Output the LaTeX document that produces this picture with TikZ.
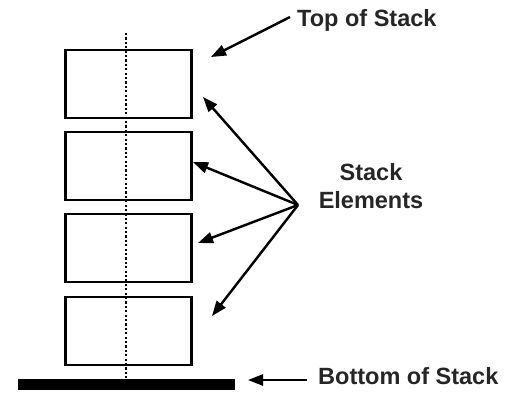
\documentclass[tikz,border=0pt]{standalone}
\usepackage{fontspec}
\setmainfont{Liberation Sans}
\usetikzlibrary{arrows.meta}
\begin{document}
\begin{tikzpicture}[x=1pt,y=-1pt,
  elem/.style={draw=black,line width=2.6pt,fill=white,minimum width=126pt,minimum height=68pt,inner sep=0pt},
  lbl/.style={font=\bfseries\fontsize{23.5}{28}\selectfont,inner sep=0pt,align=center,text=black!85},
  arr/.style={line width=2.4pt,-{Triangle[length=15pt,width=11pt]}},
  sarr/.style={arr,draw=black!20,color=black!20,opacity=0.6}]
\useasboundingbox (0,0) rectangle (532,392);
% boxes
\node[elem] (e1) at (128.5,84) {};
\node[elem] (e2) at (128.5,166) {};
\node[elem] (e3) at (128.5,248) {};
\node[elem] (e4) at (128.5,331) {};
% base bar
\node[fill=black,minimum width=217pt,minimum height=11pt,inner sep=0pt] (bar) at (126.5,384.5) {};
% dotted axis
\coordinate (atop) at (126,33);
\draw[line width=2.6pt,dash pattern=on 2.2pt off 2.2pt] (atop) -- (bar.north -| atop);
% labels
\node[lbl,anchor=west] (top) at (297,20) {Top of Stack};
\node[lbl] (se) at (371,186) {Stack\\Elements};
\node[lbl,anchor=west] (bot) at (318,376) {Bottom of Stack};
% arrow endpoints
\coordinate (hub) at (298,205);
\coordinate (t0) at (290,17);
\coordinate (p0) at (211,57);
\coordinate (p1) at (203,97);
\coordinate (p2) at (193,162);
\coordinate (p3) at (198,243);
\coordinate (p4) at (212,316);
\coordinate (b0) at (307,380);
\coordinate (b1) at (248,380);
% arrow shadows
\begin{scope}[shift={(4,5)}]
\draw[sarr] (t0) -- (p0);
\draw[sarr] (hub) -- (p1);
\draw[sarr] (hub) -- (p2);
\draw[sarr] (hub) -- (p3);
\draw[sarr] (hub) -- (p4);
\draw[sarr] (b0) -- (b1);
\end{scope}
% arrows
\draw[arr] (t0) -- (p0);
\draw[arr] (hub) -- (p1);
\draw[arr] (hub) -- (p2);
\draw[arr] (hub) -- (p3);
\draw[arr] (hub) -- (p4);
\draw[arr] (b0) -- (b1);
\end{tikzpicture}
\end{document}
